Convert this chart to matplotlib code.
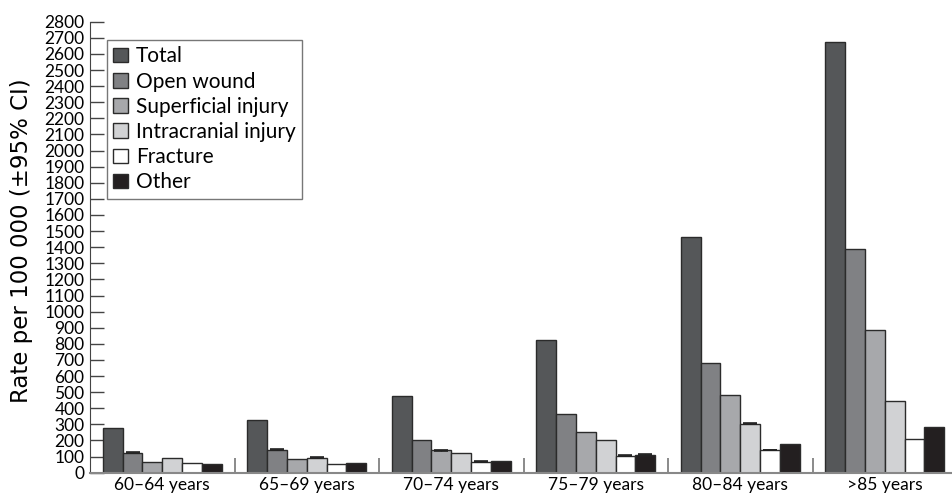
import matplotlib
matplotlib.use("Agg")
import matplotlib.pyplot as plt
import numpy as np

# ---- data ----
age_groups = ["60–64 years", "65–69 years", "70–74 years", "75–79 years", "80–84 years", ">85 years"]
series_names = ["Total", "Open wound", "Superficial injury", "Intracranial injury", "Fracture", "Other"]
total = [275, 325, 475, 823, 1461, 2672]
open_wound = [124, 144, 206, 366, 678, 1387]
superficial = [68, 82, 139, 250, 480, 889]
intracranial = [93, 94, 125, 205, 304, 445]
fracture = [58, 57, 68, 105, 141, 207]
other = [54, 59, 72, 110, 180, 281]
# small 95% CI half-widths (only visible ones)
ci_total = [0, 0, 0, 0, 0, 0]
ci_open = [4, 4, 0, 0, 0, 0]
ci_super = [0, 0, 5, 0, 0, 0]
ci_intra = [0, 5, 0, 0, 3, 0]
ci_frac = [0, 0, 3, 3, 3, 0]
ci_other = [0, 0, 0, 3, 0, 0]
y_ticks = list(range(0, 2801, 100))

values = [total, open_wound, superficial, intracranial, fracture, other]
cis = [ci_total, ci_open, ci_super, ci_intra, ci_frac, ci_other]
colors = ["#555759", "#808184", "#a7a8ab", "#d1d2d4", "#ffffff", "#231f20"]

plt.rcParams['font.family'] = ['Lato', 'DejaVu Sans']

fig = plt.figure(figsize=(9.52, 4.94), dpi=100)
ax = fig.add_axes([90 / 952, 21.3 / 494, 862 / 952, 451 / 494])

x = np.arange(len(age_groups))
w = 0.137
for k, (name, vals, ci, col) in enumerate(zip(series_names, values, cis, colors)):
    pos = x + (k - 2.5) * w
    ax.bar(pos, vals, width=w, color=col, edgecolor="#2b2b2b", linewidth=1.0,
           label=name, zorder=2)
    for p, v, c in zip(pos, vals, ci):
        if c > 0:
            ax.errorbar(p, v, yerr=c, fmt="none", ecolor="#222222", elinewidth=1,
                        capsize=5, capthick=1.2, zorder=3)

ax.set_xlim(-0.5, 5.465)
ax.set_ylim(0, 2800)
ax.set_yticks(y_ticks)
ax.set_yticklabels([str(t) for t in y_ticks], fontsize=12.5)
ax.set_xticks(x)
ax.set_xticklabels(age_groups, fontsize=12.5)
ax.set_xticks(x[:-1] + 0.5, minor=True)
ax.tick_params(axis="x", which="major", length=0, pad=3)
ax.tick_params(axis="x", which="minor", direction="in", length=11, width=1.2, color="#777777")
ax.tick_params(axis="y", direction="in", length=10, width=1, color="#444444", pad=4)

for s in ["top", "right"]:
    ax.spines[s].set_visible(False)
ax.spines["left"].set_color("#444444")
ax.spines["bottom"].set_color("#888888")
ax.spines["bottom"].set_linewidth(1.5)

ax.set_ylabel("Rate per 100 000 (±95% CI)", fontsize=16.5,
              family=["DejaVu Sans"])
ax.yaxis.set_label_coords(-0.066, 0.515)

leg = ax.legend(loc="upper left", bbox_to_anchor=(0.0197, 0.959), borderaxespad=0,
                fontsize=15, frameon=True, fancybox=False, edgecolor="#555555",
                handlelength=0.7, handleheight=0.7, handletextpad=0.4,
                borderpad=0.3, labelspacing=0.25)
leg.get_frame().set_linewidth(1.0)

fig.savefig("out.png", dpi=100)
